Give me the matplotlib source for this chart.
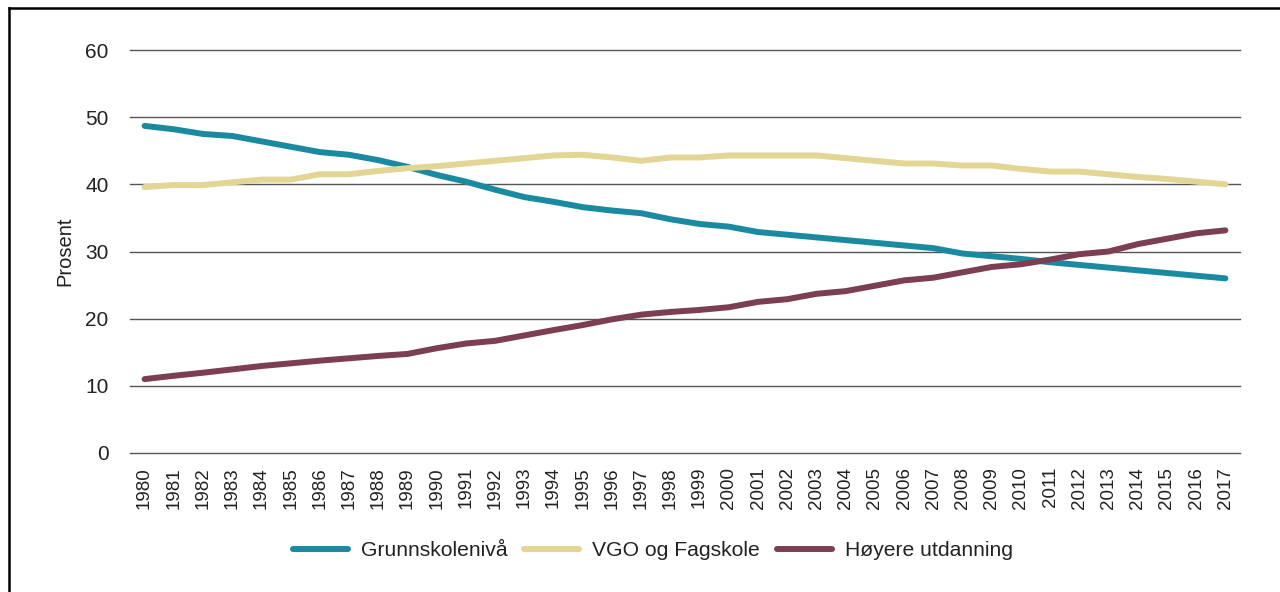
import matplotlib
matplotlib.use("Agg")
import matplotlib.pyplot as plt
from matplotlib.lines import Line2D

years = [str(y) for y in range(1980, 2018)]
grunnskole = [48.7, 48.2, 47.5, 47.2, 46.4, 45.6, 44.8, 44.4, 43.6, 42.6,
              41.4, 40.4, 39.2, 38.1, 37.4, 36.6, 36.1, 35.7, 34.8, 34.1,
              33.7, 32.9, 32.5, 32.1, 31.7, 31.3, 30.9, 30.5, 29.7, 29.3,
              28.9, 28.4, 28.0, 27.6, 27.2, 26.8, 26.4, 26.0]
vgo = [39.6, 39.9, 39.9, 40.3, 40.7, 40.7, 41.5, 41.5, 42.0, 42.4,
       42.7, 43.1, 43.5, 43.9, 44.3, 44.4, 44.0, 43.5, 44.0, 44.0,
       44.3, 44.3, 44.3, 44.3, 43.9, 43.5, 43.1, 43.1, 42.8, 42.8,
       42.3, 41.9, 41.9, 41.5, 41.1, 40.8, 40.4, 40.0]
hoyere = [11.0, 11.5, 11.95, 12.45, 12.95, 13.35, 13.75, 14.1, 14.45, 14.75,
          15.6, 16.3, 16.7, 17.5, 18.3, 19.05, 19.9, 20.6, 21.0, 21.3,
          21.7, 22.5, 22.9, 23.7, 24.1, 24.9, 25.7, 26.1, 26.9, 27.7,
          28.1, 28.8, 29.6, 30.0, 31.1, 31.9, 32.7, 33.15]
series_names = ["Grunnskolenivå", "VGO og Fagskole", "Høyere utdanning"]
colors = ["#1a8aa1", "#e3d594", "#7c3e51"]
yticks = [0, 10, 20, 30, 40, 50, 60]

plt.rcParams['font.family'] = ['Liberation Sans', 'DejaVu Sans']

W, H = 1280, 592
fig = plt.figure(figsize=(W / 100, H / 100), dpi=100)
ax = fig.add_axes([130 / W, 1 - 453 / H, (1240 - 130) / W, (453 - 50) / H])

x = list(range(len(years)))
for vals, name, c in zip([grunnskole, vgo, hoyere], series_names, colors):
    ax.plot(x, vals, color=c, lw=4.3, label=name, solid_capstyle='round',
            solid_joinstyle='round', zorder=3)

ax.set_xlim(-0.5, len(years) - 0.5)
ax.set_ylim(0, 60)
ax.set_yticks(yticks)
ax.set_yticklabels([str(v) for v in yticks], fontsize=15, color='#222222')
ax.set_xticks(x)
ax.set_xticklabels(years, rotation=90, fontsize=13.5, color='#222222')
ax.tick_params(axis='both', length=0)
ax.tick_params(axis='y', pad=15.5)
ax.tick_params(axis='x', pad=10)
for s in ax.spines.values():
    s.set_visible(False)
ax.grid(axis='y', color='#555555', lw=1.0)
for gl in ax.get_ygridlines():
    gl.set_clip_on(False)
ax.set_axisbelow(True)
ax.set_ylabel("Prosent", fontsize=14.5, color='#222222', labelpad=8)

leg = fig.legend(loc='center', bbox_to_anchor=(653 / W, 1 - 551 / H),
                 ncol=3, frameon=False, fontsize=15.2, handlelength=2.6,
                 handletextpad=0.62, columnspacing=0.8)
for t in leg.get_texts():
    t.set_color('#222222')

# outer frame (extends beyond right/bottom edges)
fig.add_artist(Line2D([8.5 / W, 8.5 / W], [1 - 7.5 / H, -0.05], color='black', lw=1.8,
                      transform=fig.transFigure))
fig.add_artist(Line2D([8.5 / W, 1.05], [1 - 7.5 / H, 1 - 7.5 / H], color='black', lw=1.8,
                      transform=fig.transFigure))

fig.savefig("out.png", dpi=100)
